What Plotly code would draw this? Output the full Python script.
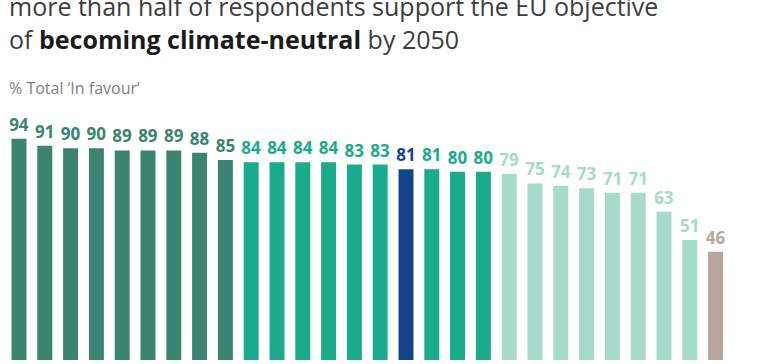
import plotly.graph_objects as go

values = [94, 91, 90, 90, 89, 89, 89, 88, 85, 84, 84, 84, 84, 83, 83, 81, 81, 80, 80, 79, 75, 74, 73, 71, 71, 63, 51, 46]
groups = ["top"] * 9 + ["mid"] * 6 + ["eu"] + ["mid"] * 3 + ["low"] * 8 + ["last"]
palette = {"top": "#3b8470", "mid": "#1aab8a", "eu": "#15448f", "low": "#a6dacb", "last": "#b5a79f"}

title_line1 = "more than half of respondents support the EU objective"
title_line2 = "of <span style='color:#1a1a1a'><b>becoming climate-neutral</b></span> by 2050"
subtitle = "% Total ‘In favour’"

W, H = 768, 364
L, R, T, B = 0, 0, 100, 4
pw, ph = W - L - R, H - T - B
step = 25.8          # px per bar slot
first_center = 19

def px(x):
    return (x - L) / pw

def py(y):
    return (H - B - y) / ph

x = list(range(len(values)))
colors = [palette[g] for g in groups]

x0 = -(first_center - L) / step
fig = go.Figure(go.Bar(
    x=x, y=values, marker=dict(color=colors, line=dict(width=0)),
    width=0.58,
    text=[str(v) for v in values], textposition="outside",
    constraintext="none",
    textfont=dict(family="Open Sans", size=17, color=colors, weight="bold"),
    cliponaxis=False, hoverinfo="skip",
))

fig.update_layout(
    width=W, height=H, margin=dict(l=L, r=R, t=T, b=B),
    paper_bgcolor="white", plot_bgcolor="white", showlegend=False,
    xaxis=dict(range=[x0, x0 + pw / step], visible=False),
    yaxis=dict(range=[0, ph / 2.354], visible=False),
    font=dict(family="Open Sans"),
    annotations=[
        dict(text=title_line1 + "<br>" + title_line2, xref="paper", yref="paper",
             x=px(7), y=py(22.5), align="left",
             xanchor="left", yanchor="middle", showarrow=False,
             font=dict(size=25, color="#3d3d3d", family="Open Sans")),
        dict(text=subtitle, xref="paper", yref="paper", x=px(7), y=py(88),
             xanchor="left", yanchor="middle", showarrow=False,
             font=dict(size=16, color="#808080", family="Open Sans")),
    ],
)

fig.write_html("out.html", config={"displayModeBar": False},
               post_script="document.body.style.margin='0';")
